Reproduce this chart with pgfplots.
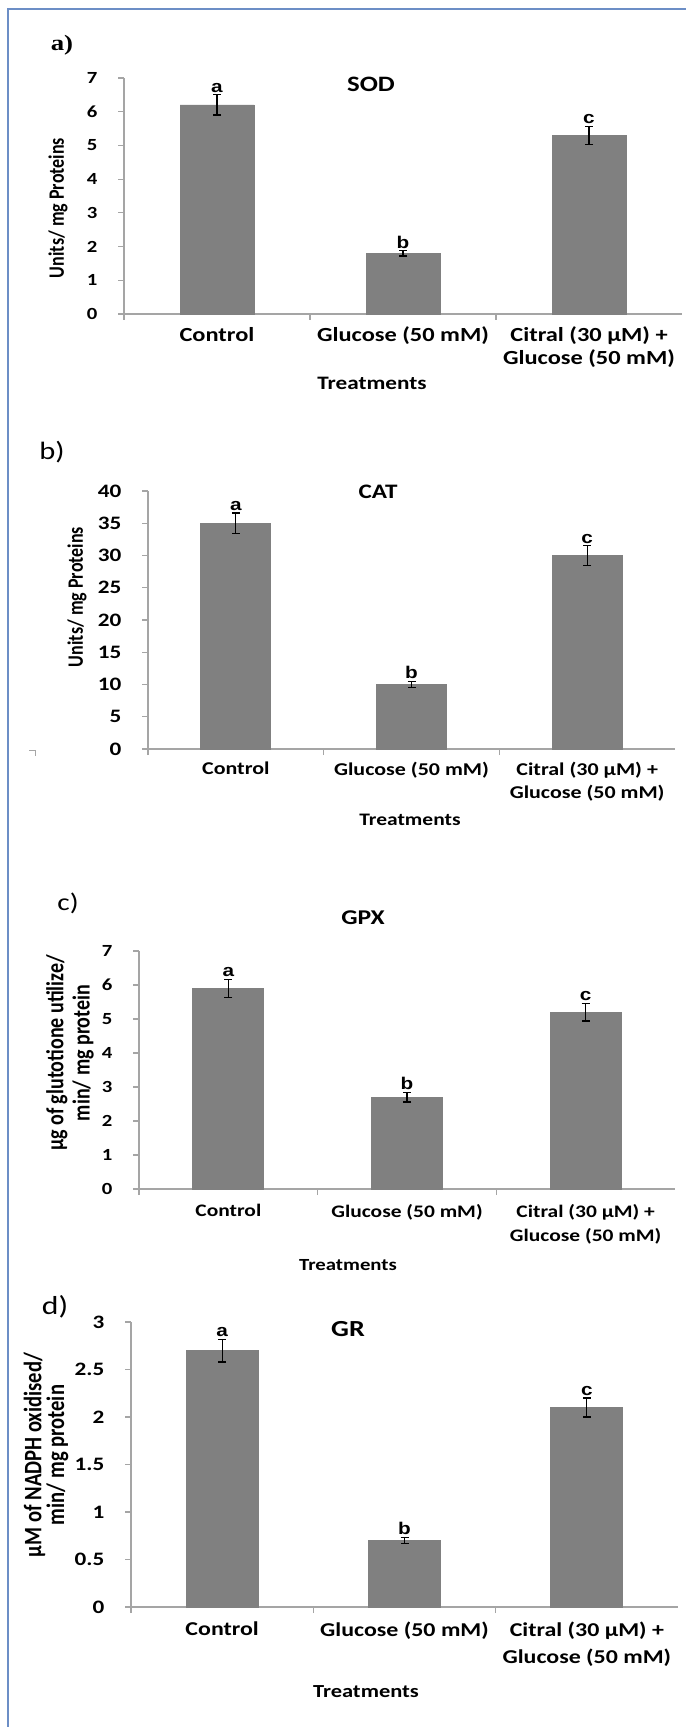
\documentclass[border=0pt]{standalone}
\usepackage{pgfplots}
\pgfplotsset{compat=1.18}
\usepackage{fontspec}
\setmainfont{Carlito}
\newfontfamily\timesf{Liberation Serif}
\newfontfamily\arialf{Liberation Sans}

\definecolor{barfill}{RGB}{128,128,128}
\definecolor{axgray}{RGB}{165,165,165}
\definecolor{frameblue}{RGB}{108,142,198}

% the reference is stretched sideways, so the text is too
\def\sx{1.22}

\tikzset{
  letter/.style={font=\arialf\bfseries\fontsize{8.5}{9}\selectfont, anchor=south, inner sep=1pt, xscale=\sx},
  ttl/.style={font=\bfseries\fontsize{#1}{#1}\selectfont, xscale=\sx},
}

\pgfplotsset{
  panel/.style={
    scale only axis, clip=false,
    xmin=-0.5, xmax=2.5, ymin=0,
    axis x line*=bottom, axis y line*=left,
    axis line style={axgray, line width=0.6pt},
    tick align=outside, major tick length=3pt,
    tick style={axgray, line width=0.6pt},
    xtick={-0.5,0.5,1.5}, xticklabels={},
    extra x ticks={0,1,2},
    extra x tick labels={Control, Glucose (50 mM), {Citral (30 µM) +\\Glucose (50 mM)}},
    extra x tick style={major tick length=0pt},
    /pgf/number format/assume math mode=true,
    xticklabel style={align=center, yshift=-3pt, xscale=\sx, font=\bfseries\fontsize{10}{11.5}\selectfont},
    yticklabel style={xshift=-6pt, xscale=\sx, font=\bfseries\fontsize{8.5}{10}\selectfont},
  },
  bars/.style={ybar, fill=barfill, draw=barfill, bar width=#1,
    error bars/.cd, y dir=both, y explicit,
    error bar style={black, line width=0.6pt},
    error mark options={rotate=90, mark size=2pt, line width=0.6pt, black}},
}

\begin{document}
\begin{tikzpicture}
\path[use as bounding box] (0,0) rectangle (343pt,-863.5pt);
\draw[frameblue, line width=1pt] (4pt,-863.5pt) -- (4pt,-4.5pt) -- (343pt,-4.5pt);

% a) SOD
\begin{axis}[panel, at={(62pt,-157pt)}, anchor=south west,
  width=279pt, height=118pt, ymax=7, ytick={0,1,...,7}]
\addplot[bars=37pt] table[x=x, y=y, y error=e] {
x y e
0 6.2 0.30
1 1.8 0.08
2 5.3 0.27
};
\node[letter] at (axis cs:0,6.5) {a};
\node[letter] at (axis cs:1,1.88) {b};
\node[letter] at (axis cs:2,5.57) {c};
\end{axis}

% b) CAT
\begin{axis}[panel, at={(74pt,-374.5pt)}, anchor=south west,
  width=263.5pt, height=129pt, ymax=40, ytick={0,5,...,40},
  xticklabel style={font=\bfseries\fontsize{9}{11.5}\selectfont},
  yticklabel style={font=\bfseries\fontsize{9.5}{11}\selectfont}]
\addplot[bars=35pt] table[x=x, y=y, y error=e] {
x y e
0 35 1.6
1 10 0.5
2 30 1.5
};
\node[letter] at (axis cs:0,36.6) {a};
\node[letter] at (axis cs:1,10.5) {b};
\node[letter] at (axis cs:2,31.5) {c};
\end{axis}

% c) GPX
\begin{axis}[panel, at={(69.5pt,-594.5pt)}, anchor=south west,
  width=268pt, height=119pt, ymax=7, ytick={0,1,...,7},
  xticklabel style={yshift=-1pt, font=\bfseries\fontsize{8.8}{12}\selectfont}]
\addplot[bars=35.5pt] table[x=x, y=y, y error=e] {
x y e
0 5.9 0.27
1 2.7 0.14
2 5.2 0.26
};
\node[letter] at (axis cs:0,6.17) {a};
\node[letter] at (axis cs:1,2.84) {b};
\node[letter] at (axis cs:2,5.46) {c};
\end{axis}

% d) GR
\begin{axis}[panel, at={(65.5pt,-803.5pt)}, anchor=south west,
  width=273.5pt, height=142.5pt, ymax=3,
  ytick={0,0.5,...,3}, yticklabels={0,0.5,1,1.5,2,2.5,3},
  xticklabel style={yshift=-1pt, font=\bfseries\fontsize{9.8}{13.5}\selectfont},
  yticklabel style={font=\bfseries\fontsize{9.5}{11}\selectfont}]
\addplot[bars=36pt] table[x=x, y=y, y error=e] {
x y e
0 2.7 0.12
1 0.7 0.035
2 2.1 0.10
};
\node[letter] at (axis cs:0,2.82) {a};
\node[letter] at (axis cs:1,0.735) {b};
\node[letter] at (axis cs:2,2.2) {c};
\end{axis}

\begin{scope}[x=0.5pt, y=-0.5pt]
% panel letters
\node[xscale=\sx, font=\timesf\bfseries\fontsize{11}{11}\selectfont] at (62,45) {a)};
\node[xscale=\sx, font=\fontsize{12.5}{12.5}\selectfont] at (52,452) {b)};
\node[xscale=\sx, font=\fontsize{12}{12}\selectfont] at (68,903) {c)};
\node[xscale=\sx, font=\fontsize{13}{13}\selectfont] at (55,1307) {d)};
% titles
\node[ttl=11] at (371,84) {SOD};
\node[ttl=10.3] at (378,492) {CAT};
\node[ttl=10.5] at (363,918) {GPX};
\node[ttl=11.5] at (348,1329) {GR};
% x labels
\node[ttl=9.5] at (372,383) {Treatments};
\node[ttl=8.8] at (410,820) {Treatments};
\node[ttl=8.5] at (348,1265) {Treatments};
\node[ttl=9.2] at (366,1692) {Treatments};
% y labels
\node[ttl=9, rotate=90] at (58,208) {Units/ mg Proteins};
\node[ttl=9, rotate=90] at (77,597) {Units/ mg Proteins};
\node[xscale=\sx, font=\bfseries\fontsize{10}{10.7}\selectfont, rotate=90, align=center] at (70,1053) {µg of glutotione utilize/\\min/ mg protein};
\node[xscale=\sx, font=\bfseries\fontsize{10.3}{9.3}\selectfont, rotate=90, align=center] at (46,1455) {µM of NADPH oxidised/\\min/ mg protein};
% stray corner mark
\draw[gray!70, line width=0.5pt] (29,750) -- (35,750) -- (35,756);
\end{scope}
\end{tikzpicture}
\end{document}
